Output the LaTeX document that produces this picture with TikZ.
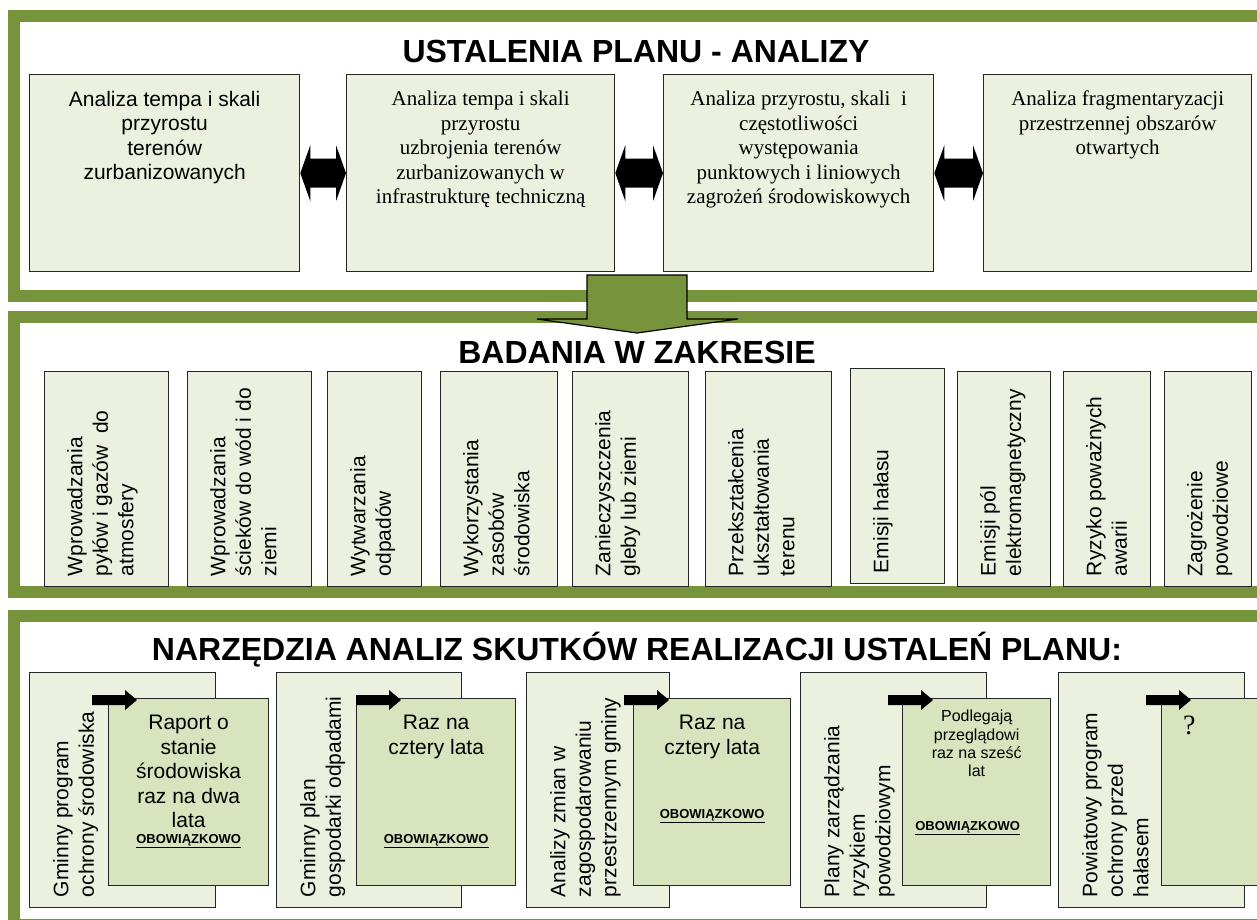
\documentclass[tikz,border=0pt]{standalone}
\usepackage{fontspec}
\setmainfont{Liberation Serif}
\setsansfont{Liberation Sans}
\usetikzlibrary{calc, positioning}
\definecolor{frame green}{HTML}{77933C}
\definecolor{box light}{HTML}{EBF1DE}
\definecolor{box dark}{HTML}{D7E4BD}
\tikzset{
  section/.style = {draw=frame green, line width=12pt},
  heading/.style = {font=\sffamily\bfseries\fontsize{32}{36}\selectfont,
                    anchor=base, inner sep=0},
  box/.style = {draw=black!85!white, line width=1.3pt, fill=box light,
                inner sep=0, anchor=north west},
  box text/.style = {align=center, inner sep=0,
                     font=\sffamily\fontsize{21}{24.5}\selectfont},
  serif text/.style = {box text, font=\rmfamily\fontsize{21}{24.5}\selectfont},
  side text/.style = {rotate=90, anchor=north west, align=left, inner sep=0,
                      font=\sffamily\fontsize{21}{25.5}\selectfont},
  must/.style = {inner sep=0, anchor=base,
                 font=\sffamily\bfseries\fontsize{13}{15}\selectfont},
  link/.style = {fill=black},
  flow/.style = {fill=frame green, draw=black, line width=1.2pt, line join=miter},
}

\begin{document}
\begin{tikzpicture}[x=1pt, y=-1pt]
  \fill [white] (0,0) rectangle (1257,919);
  \useasboundingbox (0,0) rectangle (1257,919);

  % Three sections
  \draw [section] (14,16) rectangle (1264,296);
  \draw [section] (14,317) rectangle (1264,592);
  \draw [section] (14,616) rectangle (1264,925);

  \node (title1) [heading] at (636,62) {USTALENIA PLANU - ANALIZY};
  \node (title2) [heading] at (637,363) {BADANIA W ZAKRESIE};
  \node (title3) [heading] at (637,660)
    {NARZĘDZIA ANALIZ SKUTKÓW REALIZACJI USTALEŃ PLANU:};

  % Analyses
  \begin{scope}[minimum height=197pt]
    \node (ana1) [box, minimum width=270pt] at (29,74) {};
    \node (ana2) [box, minimum width=268pt] at (346,74) {};
    \node (ana3) [box, minimum width=270pt] at (663,74) {};
    \node (ana4) [box, minimum width=268pt] at (983,74) {};
  \end{scope}
  \node (ana1 text) [box text, below=17pt of ana1.north]
    {Analiza tempa i skali\\ przyrostu\\ terenów\\ zurbanizowanych};
  \node (ana2 text) [serif text, below=17pt of ana2.north]
    {Analiza tempa i skali\\ przyrostu\\ uzbrojenia terenów\\
     zurbanizowanych w\\ infrastrukturę techniczną};
  \node (ana3 text) [serif text, below=17pt of ana3.north]
    {Analiza przyrostu, skali\ \ i\\ częstotliwości\\ występowania\\
     punktowych i liniowych\\ zagrożeń środowiskowych};
  \node (ana4 text) [serif text, below=17pt of ana4.north]
    {Analiza fragmentaryzacji\\ przestrzennej obszarów\\ otwartych};

  % Add the double arrows
  \foreach \a/\b in {ana1/ana2, ana2/ana3, ana3/ana4}{
    \fill [link] (\a.east) -- ++(10,-28) -- ++(0,13.5)
      -- ($(\b.west)+(-10,-14.5)$) -- ++(0,-13.5) -- (\b.west)
      -- ++(-10,28) -- ++(0,-13.5) -- ($(\a.east)+(10,14.5)$)
      -- ++(0,13.5) -- cycle;
  }

  % Studies
  \foreach \i/\x/\y/\w/\txt in {
    1/44/371/124/{Wprowadzania\\ pyłów i gazów\ \ do\\ atmosfery},
    2/187/371/124/{Wprowadzania\\ ścieków do wód i do\\ ziemi},
    3/327/371/94/{Wytwarzania\\ odpadów},
    4/440/371/117/{Wykorzystania\\ zasobów\\ środowiska},
    5/572/371/116/{Zanieczyszczenia\\ gleby lub ziemi},
    6/705/371/126/{Przekształcenia\\ ukształtowania\\ terenu},
    7/850/368/94/{Emisji hałasu},
    8/957/371/93/{Emisji pól\\ elektromagnetyczny},
    9/1063/371/87/{Ryzyko poważnych\\ awarii},
    10/1164/371/87/{Zagrożenie\\ powodziowe}}{
    \node (bad\i) [box, minimum width=\w pt, minimum height=215pt] at (\x,\y) {};
    \node (bad\i text) [side text] at ($(bad\i.south west)+(23,-11)$) {\txt};
  }

  % Tools and how often they are made
  \foreach \i/\bx/\bw/\fx/\fw/\ao/\txt in {
    1/29/186/108/160/-16/{Gminny program\\ ochrony środowiska},
    2/276/185/356/159/0/{Gminny plan\\ gospodarki odpadami},
    3/526/143/633/157/-9/{Analizy zmian w\\ zagospodarowaniu\\ przestrzennym gminy},
    4/800/186/902/148/-14/{Plany zarządzania\\ ryzykiem\\ powodziowym},
    5/1058/186/1161/101/-15/{Powiatowy program\\ ochrony przed\\ hałasem}}{
    \node (tool\i) [box, minimum width=\bw pt, minimum height=235pt] at (\bx,672) {};
    \node (tool\i text) [side text] at ($(tool\i.south west)+(24,-11)$) {\txt};
    \node (freq\i) [box, fill=box dark, minimum width=\fw pt, minimum height=187pt]
      at (\fx,698) {};
    \fill [link] ($(freq\i.north west)+(\ao,2)$) coordinate (ptr\i)
      -- ++(0,-5) -- ++(33,0) -- ++(0,-5) -- ++(12,10) -- ++(-12,10)
      -- ++(0,-5) -- ++(-33,0) -- cycle;
  }
  \node (freq1 text) [box text, below=17pt of freq1.north]
    {Raport o\\ stanie\\ środowiska\\ raz na dwa\\ lata};
  \node (freq2 text) [box text, below=17pt of freq2.north] {Raz na\\ cztery lata};
  \node (freq3 text) [box text, below=17pt of freq3.north] {Raz na\\ cztery lata};
  \node (freq4 text) [box text, font=\sffamily\fontsize{16}{18.3}\selectfont,
    below=12pt of freq4.north] {Podlegają\\ przeglądowi\\ raz na sześć\\ lat};
  \node (freq5 text) [inner sep=0, anchor=north west,
    font=\rmfamily\fontsize{28}{30}\selectfont]
    at ($(freq5.north west)+(22,18)$) {?};

  \node (must1) [must] at ($(freq1.north)+(0,145)$) {\underline{OBOWIĄZKOWO}};
  \node (must2) [must] at ($(freq2.north)+(0,145)$) {\underline{OBOWIĄZKOWO}};
  \node (must3) [must] at ($(freq3.north)+(0,120)$) {\underline{OBOWIĄZKOWO}};
  \node (must4) [must] at ($(freq4.north)+(-9,132)$) {\underline{OBOWIĄZKOWO}};

  % Big arrow down
  \filldraw [flow] (587,275) -- (687,275) -- (687,319) -- (738,319)
    -- (637,333) -- (537,319) -- (587,319) -- cycle;
\end{tikzpicture}
\end{document}
